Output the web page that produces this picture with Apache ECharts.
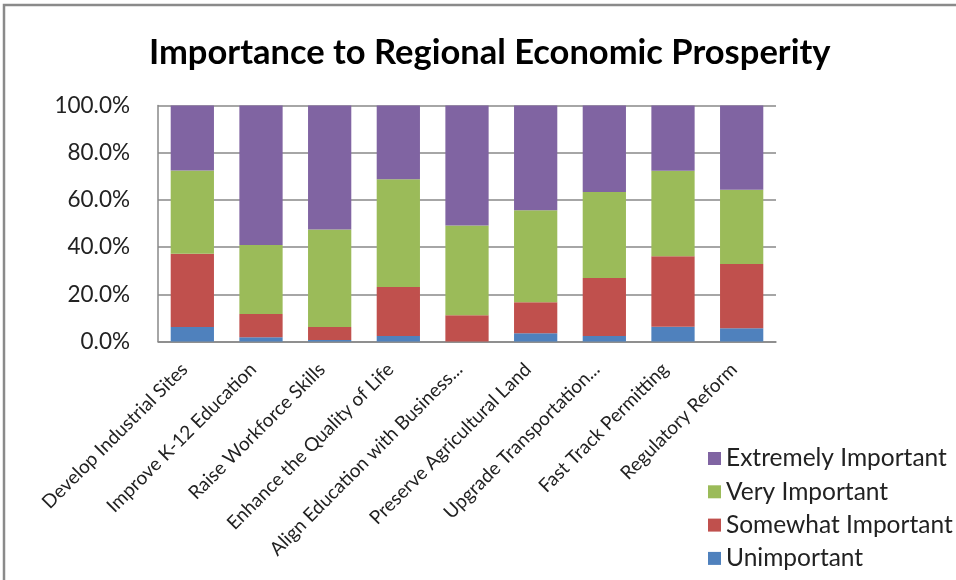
<!DOCTYPE html>
<html>
<head>
<meta charset="utf-8">
<script src="https://cdn.jsdelivr.net/npm/echarts@6/dist/echarts.min.js"></script>
<style>
  html, body { margin: 0; padding: 0; background: #fff; }
  #chart { width: 956px; height: 580px; }
</style>
</head>
<body>
<div id="chart"></div>
<script>
// Survey categories (x axis)
const categories = [
  'Develop Industrial Sites',
  'Improve K-12 Education',
  'Raise Workforce Skills',
  'Enhance the Quality of Life',
  'Align Education with Business...',
  'Preserve Agricultural Land',
  'Upgrade Transportation...',
  'Fast Track Permitting',
  'Regulatory Reform'
];

// Share of responses per importance level (percent)
const unimportant = [6.1, 1.8, 0.6, 2.3, 0.0, 3.5, 2.3, 6.3, 5.6];
const somewhatImportant = [31.1, 9.9, 5.5, 20.8, 11.1, 13.1, 24.6, 29.8, 27.2];
const veryImportant = [35.3, 29.2, 41.4, 45.6, 38.0, 39.0, 36.4, 36.3, 31.5];
const extremelyImportant = [27.5, 59.1, 52.5, 31.3, 50.9, 44.4, 36.7, 27.6, 35.7];

// Value axis ticks
const yTicks = [0, 20, 40, 60, 80, 100];

const FONT = 'Lato, "Open Sans", sans-serif';
const AXIS_GRAY = '#888888';

const chart = echarts.init(document.getElementById('chart'), null, { renderer: 'canvas' });

function barSeries(name, data, color) {
  return {
    name: name,
    type: 'bar',
    stack: 'total',
    data: data,
    barWidth: '63%',
    itemStyle: { color: color },
    emphasis: { disabled: true }
  };
}

chart.setOption({
  animation: false,
  backgroundColor: '#ffffff',
  title: {
    text: 'Importance to Regional Economic Prosperity',
    left: 144,
    top: 30,
    textStyle: { fontFamily: FONT, fontSize: 34.5, fontWeight: 'bold', color: '#000' }
  },
  grid: { left: 158, right: 180, top: 105.5, bottom: 238.5, containLabel: false },
  legend: {
    orient: 'vertical',
    left: 703,
    top: 441,
    itemWidth: 13,
    itemHeight: 13,
    itemGap: 8.3,
    icon: 'rect',
    data: ['Extremely Important', 'Very Important', 'Somewhat Important', 'Unimportant'],
    textStyle: { fontFamily: FONT, fontSize: 24.5, color: '#222' }
  },
  xAxis: {
    type: 'category',
    data: categories,
    axisLine: { lineStyle: { color: AXIS_GRAY, width: 1.5 } },
    axisTick: { show: false },
    axisLabel: {
      interval: 0,
      rotate: 45,
      margin: 17,
      padding: [0, 11, 0, 0],
      fontFamily: FONT,
      fontSize: 19,
      color: '#222'
    }
  },
  yAxis: {
    type: 'value',
    min: yTicks[0],
    max: yTicks[yTicks.length - 1],
    interval: 20,
    axisLine: { show: true, lineStyle: { color: AXIS_GRAY, width: 1.5 } },
    axisTick: { show: false },
    splitLine: { lineStyle: { color: AXIS_GRAY, width: 1.5 } },
    axisLabel: {
      margin: 28,
      fontFamily: FONT,
      fontSize: 22.5,
      color: '#222',
      formatter: v => v.toFixed(1) + '%'
    }
  },
  graphic: [{
    type: 'rect',
    shape: { x: 4, y: 5, width: 1200, height: 1200 },
    style: { fill: 'none', stroke: '#8a8a8a', lineWidth: 2.5 },
    silent: true
  }],
  series: [
    barSeries('Unimportant', unimportant, '#4F81BD'),
    barSeries('Somewhat Important', somewhatImportant, '#C0504D'),
    barSeries('Very Important', veryImportant, '#9BBB59'),
    barSeries('Extremely Important', extremelyImportant, '#8064A2')
  ]
});
</script>
</body>
</html>
